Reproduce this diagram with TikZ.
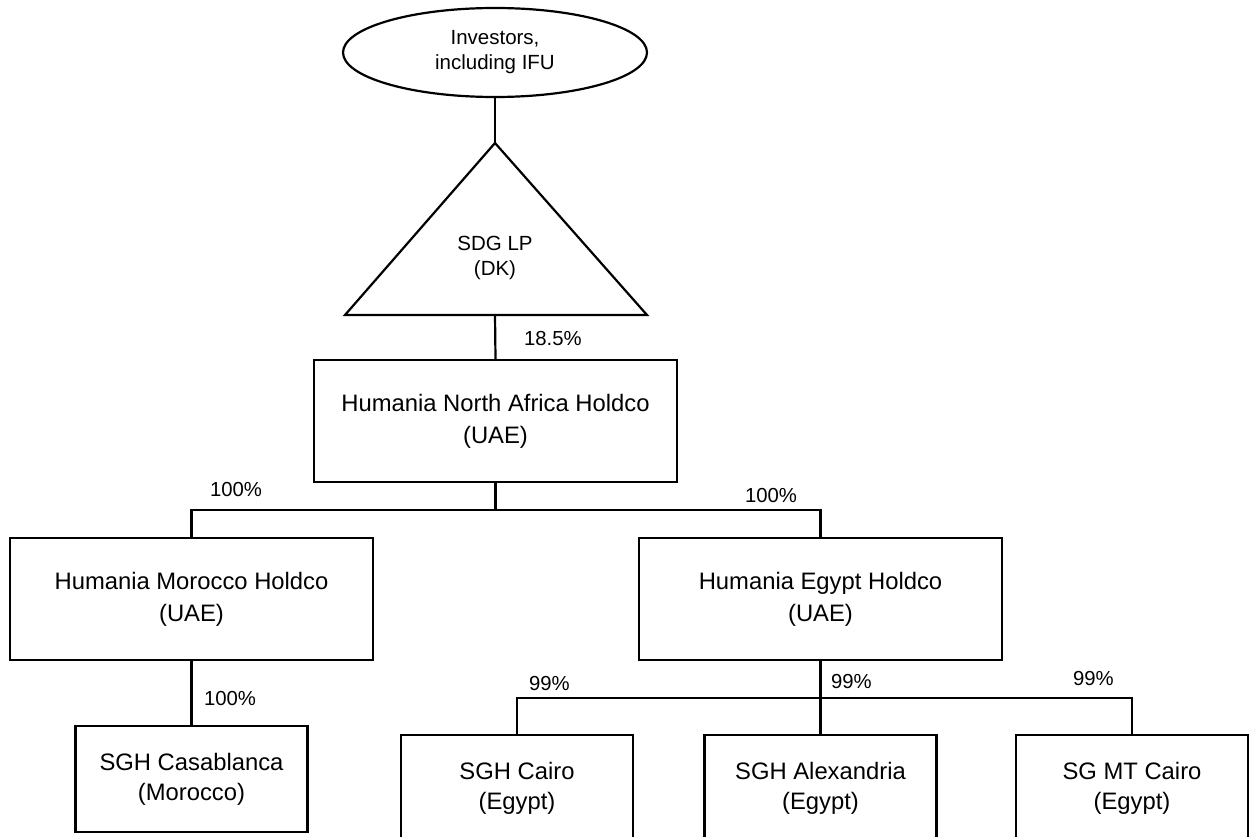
\documentclass[tikz,border=0pt]{standalone}
\usepackage{fontspec}
\setmainfont{Liberation Sans}
\usetikzlibrary{shapes.geometric}
\begin{document}
\begin{tikzpicture}[x=1pt,y=-1pt,
  line width=2.2pt,
  bigbox/.style={draw, rectangle, minimum width=363pt, minimum height=122pt, inner sep=0pt, align=center,
    font=\fontsize{23.8}{32}\selectfont},
  smallbox/.style={draw, rectangle, minimum width=232pt, minimum height=106pt, inner sep=0pt, align=center,
    font=\fontsize{23.8}{30}\selectfont},
  toptext/.style={inner sep=0pt, align=center, font=\fontsize{20.5}{25}\selectfont},
  pct/.style={inner sep=0pt, anchor=base west, font=\fontsize{20.3}{24}\selectfont}
]
\useasboundingbox (0,0) rectangle (1249,837);
\fill[white] (0,0) rectangle (1249,837);
\clip (0,0) rectangle (1249,837);

% top investors ellipse
\node[draw, ellipse, minimum width=304pt, minimum height=89pt, inner sep=0pt, toptext] (inv) at (495,52.5)
  {Investors,\\including IFU};

% SDG LP triangle
\coordinate (apex) at (495,143);
\coordinate (bl) at (345,315);
\coordinate (br) at (647,315);
\coordinate (basemid) at (495,315);
\draw (apex) -- (br) -- (bl) -- cycle;
\node[toptext] (sdg) at (495,258) {SDG LP\\(DK)};

% holdcos
\node[bigbox] (na) at (495.5,421) {Humania North Africa Holdco\\(UAE)};
\node[bigbox] (mor) at (191.5,599) {Humania Morocco Holdco\\(UAE)};
\node[bigbox] (egy) at (820.5,599) {Humania Egypt Holdco\\(UAE)};

% operating companies
\node[smallbox] (cas) at (191.5,779) {SGH Casablanca\\(Morocco)};
\node[smallbox] (cai) at (517,788) {SGH Cairo\\(Egypt)};
\node[smallbox] (alx) at (820.5,788) {SGH Alexandria\\(Egypt)};
\node[smallbox] (smt) at (1132,788) {SG MT Cairo\\(Egypt)};

% connectors
\draw (inv.south) -- (apex);
\draw (basemid) -- (na.north);
\coordinate (barN) at (495.5,510);
\draw (na.south) -- (barN);
\draw (mor.north) |- (barN) -| (egy.north);
\draw (mor.south) -- (cas.north);
\coordinate (barE) at (820.5,698);
\draw (egy.south) -- (alx.north);
\draw (cai.north) |- (barE) -| (smt.north);

% percentages
\node[pct] (p1) at (523,345) {18.5\%};
\node[pct] (p2) at (209,496) {100\%};
\node[pct] (p3) at (744,502) {100\%};
\node[pct] (p4) at (203,705) {100\%};
\node[pct] (p5) at (528,690) {99\%};
\node[pct] (p6) at (830,688) {99\%};
\node[pct] (p7) at (1072,685) {99\%};
\end{tikzpicture}
\end{document}
